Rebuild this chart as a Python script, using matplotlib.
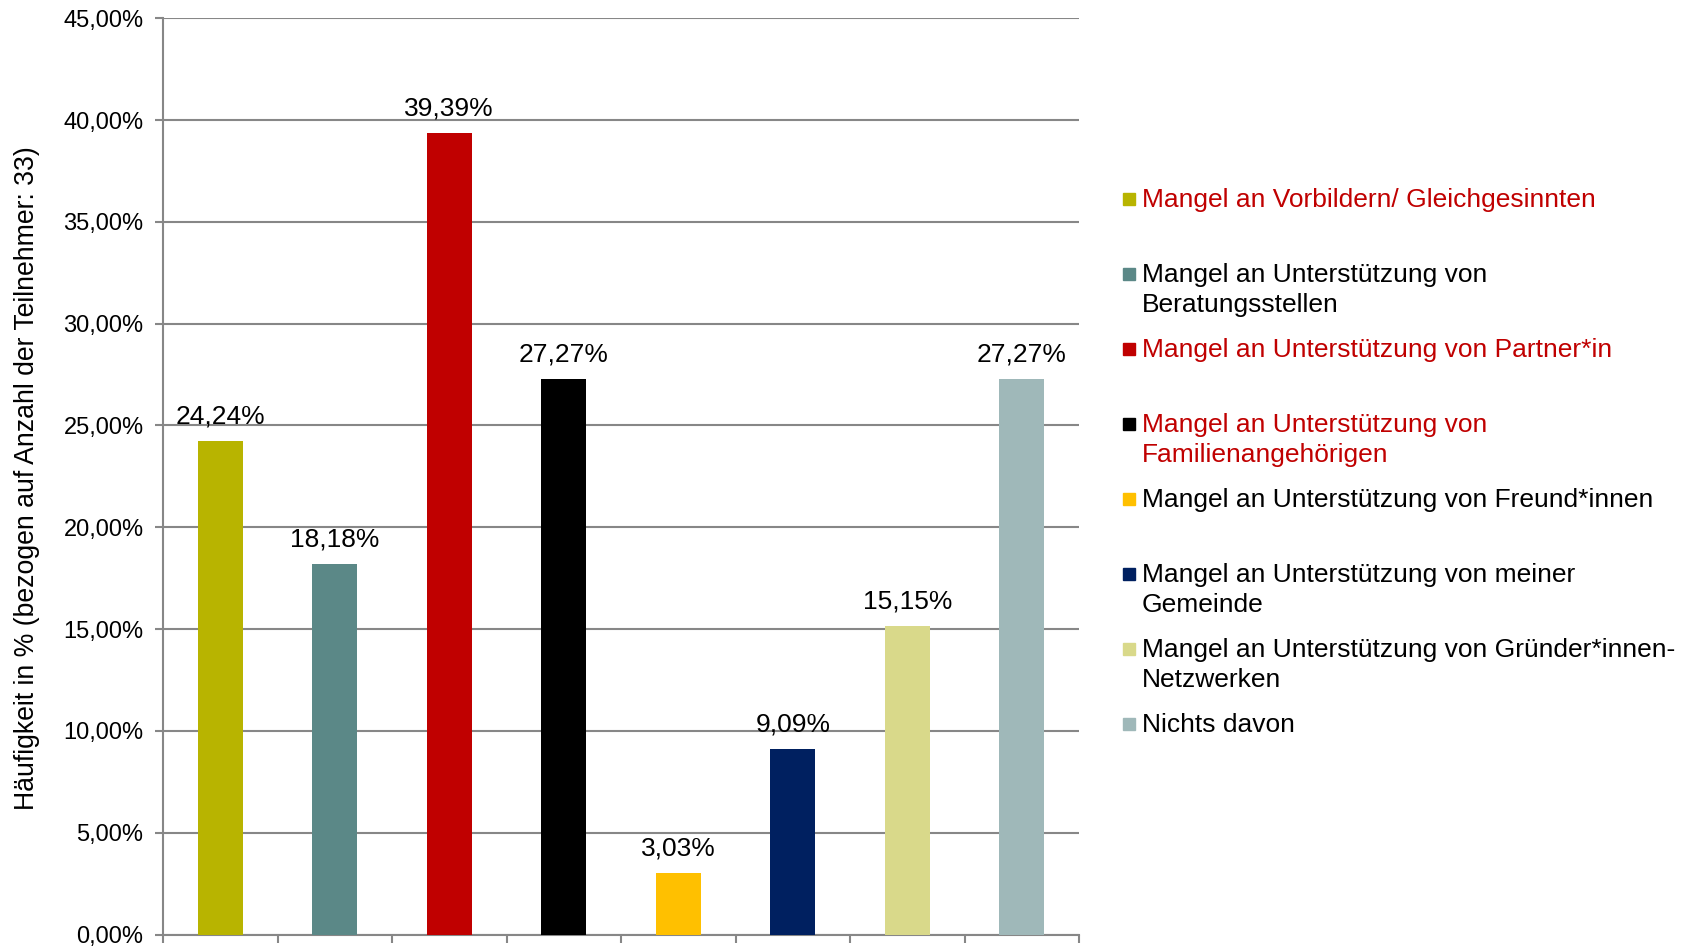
import matplotlib.pyplot as plt
from matplotlib.patches import Rectangle
from matplotlib.ticker import FuncFormatter

plt.rcParams['font.family'] = ['Liberation Sans', 'DejaVu Sans']

# data
labels = ['Mangel an Vorbildern/ Gleichgesinnten',
          'Mangel an Unterstützung von\nBeratungsstellen',
          'Mangel an Unterstützung von Partner*in',
          'Mangel an Unterstützung von\nFamilienangehörigen',
          'Mangel an Unterstützung von Freund*innen',
          'Mangel an Unterstützung von meiner\nGemeinde',
          'Mangel an Unterstützung von Gründer*innen-\nNetzwerken',
          'Nichts davon']
values = [24.24, 18.18, 39.39, 27.27, 3.03, 9.09, 15.15, 27.27]
colors = ['#B8B400', '#5B8887', '#C00000', '#000000',
          '#FFC000', '#002060', '#D9D98A', '#9FB8B9']
text_colors = ['#C00000', '#000000', '#C00000', '#C00000',
               '#000000', '#000000', '#000000', '#000000']

W, H = 1692, 947
fig = plt.figure(figsize=(W / 100, H / 100), dpi=100)
ax = fig.add_axes([163 / W, 1 - 934.5 / H, (1079 - 163) / W, (934.5 - 18.3) / H])

x = [i + 0.5 for i in range(len(values))]
ax.bar(x, values, width=0.39, color=colors, zorder=3)

for xi, v in zip(x, values):
    ax.annotate(('%.2f%%' % v).replace('.', ','), (xi, v), xytext=(0, 9),
                textcoords='offset points', ha='center', va='bottom', fontsize=19)

ax.set_xlim(0, len(values))
ax.set_ylim(0, 45)
ax.set_yticks(range(0, 46, 5))
ax.yaxis.set_major_formatter(FuncFormatter(lambda v, p: ('%.2f%%' % v).replace('.', ',')))
ax.set_xticks(range(len(values) + 1))
ax.set_xticklabels([])

grey = '#878787'
ax.grid(axis='y', color=grey, linewidth=1.5, zorder=0)
for s in ['top', 'right']:
    ax.spines[s].set_visible(False)
for s in ['left', 'bottom']:
    ax.spines[s].set_color(grey)
    ax.spines[s].set_linewidth(1.5)
ax.tick_params(axis='both', colors=grey, length=6, width=1.5, direction='out')
ax.tick_params(axis='y', labelcolor='black', labelsize=17, pad=8)

fig.text(27 / W, 1 - 478 / H, 'Häufigkeit in % (bezogen auf Anzahl der Teilnehmer: 33)',
         rotation=90, ha='center', va='center', fontsize=19.2)

# legend drawn by hand: markers sit on the first line of each entry
base0, step, line_step = 207.3, 74.9, 30.2
for i, (lab, c, tc) in enumerate(zip(labels, colors, text_colors)):
    b = base0 + step * i
    fig.patches.append(Rectangle((1123 / W, 1 - (b - 2) / H), 12 / W, 12 / H,
                                 color=c, transform=fig.transFigure))
    for k, part in enumerate(lab.split('\n')):
        fig.text(1142 / W, 1 - (b + k * line_step) / H, part, color=tc,
                 fontsize=19, ha='left', va='baseline')

fig.savefig('out.png', dpi=100)
